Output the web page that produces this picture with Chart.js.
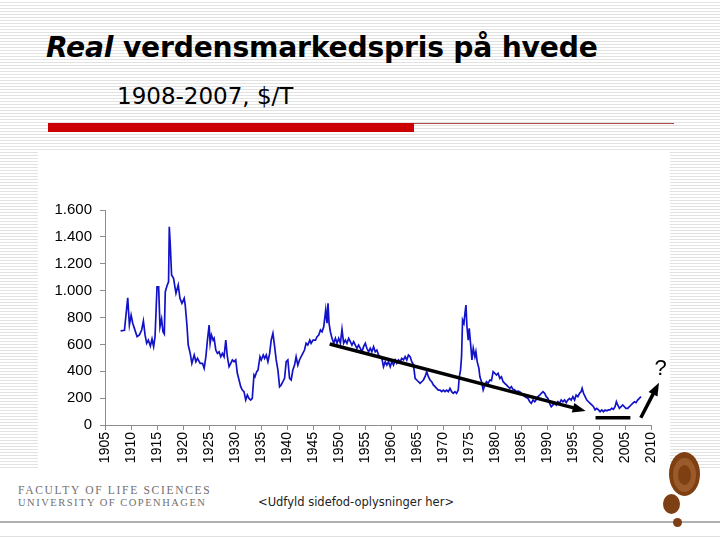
<!DOCTYPE html>
<html>
<head>
<meta charset="utf-8">
<script src="https://cdn.jsdelivr.net/npm/chart.js@4"></script>
<style>
  html,body{margin:0;padding:0;}
  body{width:720px;height:540px;position:relative;overflow:hidden;
    background:repeating-linear-gradient(to bottom,#ffffff 0px,#ffffff 2px,#e2e2e2 2px,#e2e2e2 3px);
    font-family:"DejaVu Sans",sans-serif;}
  #title{position:absolute;left:46px;top:31px;font-size:28.2px;font-weight:bold;color:#000;white-space:nowrap;letter-spacing:-0.2px;}
  #sub{position:absolute;left:117px;top:83px;font-size:23px;color:#000;white-space:nowrap;}
  #redbar{position:absolute;left:48px;top:123px;width:366px;height:9px;background:#cc0000;}
  #thin{position:absolute;left:414px;top:123px;width:260px;height:1px;background:#b04848;}
  #box{position:absolute;left:38px;top:152px;width:632px;height:318px;background:#fff;}
  #foot{position:absolute;left:0;top:470px;width:720px;height:70px;background:#fff;}
  #cv{position:absolute;left:38px;top:152px;}
  .fac{position:absolute;left:18px;font-family:"Liberation Serif",serif;color:#707070;letter-spacing:1.7px;white-space:nowrap;}
  #f1{top:484px;font-size:11.5px;}
  #f2{top:497px;font-size:10.5px;letter-spacing:1.5px;}
  #ud{position:absolute;left:258px;top:495px;font-size:11.5px;color:#222;white-space:nowrap;}
  #gl{position:absolute;left:0;top:521px;width:720px;height:2px;background:#b0b0b0;}
  #gl2{position:absolute;left:0;top:536px;width:720px;height:1px;background:#e0e0e0;}
  .dot{position:absolute;border-radius:50%;background:#7e3f12;}
</style>
</head>
<body>
<div id="box"></div>
<div id="foot"></div>
<div id="title"><i>Real</i> verdensmarkedspris på hvede</div>
<div id="sub">1908-2007, $/T</div>
<div id="redbar"></div>
<div id="thin"></div>
<canvas id="cv" width="632" height="318"></canvas>
<div class="fac" id="f1">FACULTY OF LIFE SCIENCES</div>
<div class="fac" id="f2">UNIVERSITY OF COPENHAGEN</div>
<div id="ud">&lt;Udfyld sidefod-oplysninger her&gt;</div>
<div id="gl"></div>
<div id="gl2"></div>
<div class="dot" style="left:669px;top:452px;width:31px;height:44px;background:#7e3f12;"></div>
<div class="dot" style="left:673px;top:458px;width:23px;height:34px;background:#9a5a2a;"></div>
<div class="dot" style="left:678px;top:465px;width:13px;height:20px;background:#7e3f12;"></div>
<div class="dot" style="left:663px;top:494px;width:17px;height:20px;"></div>
<div class="dot" style="left:673px;top:518px;width:9px;height:9px;"></div>
<script>
// ---- data ----
const xTickYears = [1905,1910,1915,1920,1925,1930,1935,1940,1945,1950,1955,1960,1965,1970,1975,1980,1985,1990,1995,2000,2005,2010];
const yTickValues = [0,200,400,600,800,1000,1200,1400,1600];

const years = [
1908.0,1908.74,1909.37,1909.69,1910.02,1910.33,1910.65,1911.17,1911.61,1912.05,1912.38,1912.70,1913.01,1913.33,1913.72,1914.04,1914.35,1914.62,
1915.00,1915.31,1915.57,1915.88,1916.15,1916.40,1916.59,1916.92,1917.22,1917.36,1917.55,1917.80,1918.18,1918.64,1919.08,1919.41,1919.79,
1920.23,1920.42,1920.75,1921.00,1921.38,1921.70,1922.15,1922.47,1922.78,1923.30,1923.74,1924.06,1924.39,1924.69,
1925.02,1925.21,1925.46,1925.79,1925.98,1926.30,1926.61,1926.93,1927.26,1927.57,1927.89,1928.22,1928.52,1928.85,1929.18,1929.48,1929.81,
1930.13,1930.44,1930.77,1931.09,1931.40,1931.72,1932.05,1932.36,1932.68,1933.01,1933.31,1933.64,1933.83,1934.16,1934.41,1934.79,
1935.04,1935.42,1935.69,1936.00,1936.32,1936.65,1936.95,1937.28,1937.61,1937.91,1938.24,1938.56,1938.87,1939.20,1939.52,1939.83,
1940.15,1940.48,1940.79,1941.11,1941.44,1941.74,1942.07,1942.39,1942.70,1943.03,1943.35,1943.66,1943.98,1944.37,1944.62,
1945.00,1945.46,1945.77,1946.09,1946.42,1946.72,1947.05,1947.24,1947.43,1947.68,1947.87,1948.07,1948.33,1948.64,1948.97,1949.29,1949.60,1949.92,
1950.25,1950.56,1950.88,1951.21,1951.51,1951.84,1952.16,1952.47,1952.80,1953.12,1953.43,1953.75,1954.08,1954.39,1954.71,
1955.04,1955.34,1955.67,1955.99,1956.30,1956.63,1956.95,1957.26,1957.59,1957.91,1958.22,1958.54,1958.87,1959.18,1959.50,1959.83,
1960.13,1960.46,1960.79,1961.09,1961.42,1961.74,1962.05,1962.38,1962.70,1963.01,1963.33,1963.66,1963.97,1964.29,1964.62,1964.92,
1965.25,1965.57,1965.88,1966.21,1966.53,1966.84,1967.16,1967.49,1967.80,1968.12,1968.45,1968.75,1969.08,1969.41,1969.71,
1970.04,1970.36,1970.67,1971.00,1971.32,1971.63,1971.95,1972.28,1972.58,1972.91,1973.10,1973.35,1973.54,1973.74,1974.00,1974.20,1974.39,1974.58,1974.83,
1975.02,1975.27,1975.54,1975.79,1976.11,1976.30,1976.55,1976.88,1977.07,1977.38,1977.70,1978.03,1978.33,1978.66,1978.98,1979.29,1979.62,1979.94,
1980.25,1980.57,1980.90,1981.21,1981.53,1981.86,1982.16,1982.49,1982.82,1983.12,1983.45,1983.77,1984.08,1984.41,1984.73,
1985.04,1985.69,1986.32,1986.65,1986.95,1987.28,1987.61,1987.91,1988.24,1988.56,1988.87,1989.20,1989.52,1989.83,
1990.15,1990.48,1990.79,1991.11,1991.44,1991.74,1992.07,1992.39,1992.70,1993.03,1993.35,1993.66,1993.97,1994.30,1994.62,1994.94,
1995.27,1995.57,1995.90,1996.23,1996.53,1996.72,1996.99,1997.30,1997.62,1997.95,1998.26,1998.58,1998.91,1999.21,1999.54,1999.87,
2000.17,2000.50,2000.82,2001.13,2001.46,2001.78,2002.09,2002.41,2002.74,2003.05,2003.31,2003.56,2003.89,2004.20,2004.52,2004.85,
2005.15,2005.48,2005.81,2006.12,2006.44,2006.77,2007.07,2007.39,2007.72,2008.03
];
const prices = [
700,705,947,744,818,757,719,657,670,707,774,670,608,632,588,640,583,657,
1029,1029,731,789,694,677,992,1036,1066,1475,1339,1116,1091,980,1042,943,905,
943,893,744,595,533,459,521,471,496,459,459,422,508,632,
744,608,670,632,645,558,533,545,508,533,508,632,508,434,459,484,471,
484,385,335,285,260,248,186,223,198,186,198,372,359,397,409,508,
484,521,496,521,471,533,632,682,583,484,409,285,298,322,347,471,
484,347,335,409,446,508,446,484,508,533,558,608,595,632,608,
632,632,657,670,707,694,731,793,856,757,905,757,694,645,608,645,608,645,
608,712,608,632,608,645,620,595,620,595,571,595,571,545,583,
608,571,545,571,545,583,545,558,521,508,496,434,471,446,471,434,
471,446,484,459,484,471,496,484,508,484,521,508,471,450,347,335,
322,310,322,335,359,397,359,335,322,298,285,273,260,260,248,
260,248,260,248,273,248,236,248,236,260,359,409,508,781,757,831,893,731,632,
719,608,484,571,508,545,471,422,359,322,260,298,322,310,335,330,397,385,
372,385,347,359,322,310,298,285,273,285,265,260,248,252,248,
236,211,198,173,161,186,173,190,211,223,236,248,236,211,
198,161,136,149,161,149,173,161,186,173,186,166,186,198,186,211,
186,223,211,236,248,273,236,211,186,173,161,149,136,112,124,112,
99,112,99,112,106,112,112,124,117,136,173,149,124,136,149,136,
124,124,136,149,161,173,166,186,198,211
];

// hand-drawn annotation marks, in data units (year, $/T)
const trendArrow = [[1948.2, 603], [1997.4, 104]];
const flatBar    = [[1999.3, 54], [2006.0, 54]];
const upArrow    = [[2008.0, 54], [2011.5, 315]];
const questionMark = [2011.8, 420];

function fmtThousands(v){
  return String(v).replace(/\B(?=(\d{3})+(?!\d))/g, '.');
}

const annotPlugin = {
  id: 'annot',
  afterDraw(chart){
    const ctx = chart.ctx, xs = chart.scales.x, ys = chart.scales.y;
    const P = p => [xs.getPixelForValue(p[0]), ys.getPixelForValue(p[1])];
    function seg(a, b, head){
      const A = P(a), B = P(b);
      ctx.save();
      ctx.strokeStyle = '#000'; ctx.fillStyle = '#000';
      ctx.lineWidth = 3.5; ctx.lineCap = 'butt';
      const ang = Math.atan2(B[1]-A[1], B[0]-A[0]);
      const hl = head ? 13 : 0;
      ctx.beginPath();
      ctx.moveTo(A[0], A[1]);
      ctx.lineTo(B[0]-Math.cos(ang)*hl*0.8, B[1]-Math.sin(ang)*hl*0.8);
      ctx.stroke();
      if (head){
        ctx.beginPath();
        ctx.moveTo(B[0], B[1]);
        ctx.lineTo(B[0]-Math.cos(ang)*hl + Math.sin(ang)*5, B[1]-Math.sin(ang)*hl - Math.cos(ang)*5);
        ctx.lineTo(B[0]-Math.cos(ang)*hl - Math.sin(ang)*5, B[1]-Math.sin(ang)*hl + Math.cos(ang)*5);
        ctx.closePath(); ctx.fill();
      }
      ctx.restore();
    }
    seg(trendArrow[0], trendArrow[1], true);
    seg(flatBar[0], flatBar[1], false);
    seg(upArrow[0], upArrow[1], true);
    const Q = P(questionMark);
    ctx.save();
    ctx.fillStyle = '#000';
    ctx.font = '22px "Liberation Sans", sans-serif';
    ctx.textAlign = 'center'; ctx.textBaseline = 'middle';
    ctx.fillText('?', Q[0], Q[1]);
    ctx.restore();
  }
};

new Chart(document.getElementById('cv'), {
  type: 'line',
  data: {
    datasets: [{
      data: years.map((x, i) => ({x: x, y: prices[i]})),
      borderColor: '#1212c8',
      borderWidth: 1.7,
      pointRadius: 0,
      tension: 0,
      fill: false
    }]
  },
  options: {
    responsive: false,
    animation: false,
    events: [],
    layout: { padding: { top: 58, right: 16, left: 0, bottom: 0 } },
    plugins: { legend: { display: false }, tooltip: { enabled: false } },
    scales: {
      x: {
        type: 'linear',
        min: xTickYears[0], max: xTickYears[xTickYears.length - 1],
        afterBuildTicks: s => { s.ticks = xTickYears.map(v => ({value: v})); },
        afterFit: s => { s.height = 45; },
        ticks: {
          autoSkip: false, maxRotation: 90, minRotation: 90,
          color: '#000', padding: 2,
          font: { family: '"Liberation Sans", Arial, sans-serif', size: 14 },
          callback: v => String(v)
        },
        grid: { drawOnChartArea: false, tickLength: 5, color: '#8c8c8c' },
        border: { color: '#8c8c8c', width: 1 }
      },
      y: {
        min: yTickValues[0], max: yTickValues[yTickValues.length - 1],
        afterBuildTicks: s => { s.ticks = yTickValues.map(v => ({value: v})); },
        afterFit: s => { s.width = 67; },
        ticks: {
          color: '#000', padding: 8,
          font: { family: '"Liberation Sans", Arial, sans-serif', size: 15 },
          callback: v => fmtThousands(v)
        },
        grid: { drawOnChartArea: false, tickLength: 5, color: '#8c8c8c' },
        border: { color: '#8c8c8c', width: 1 }
      }
    }
  },
  plugins: [annotPlugin]
});
</script>
</body>
</html>
